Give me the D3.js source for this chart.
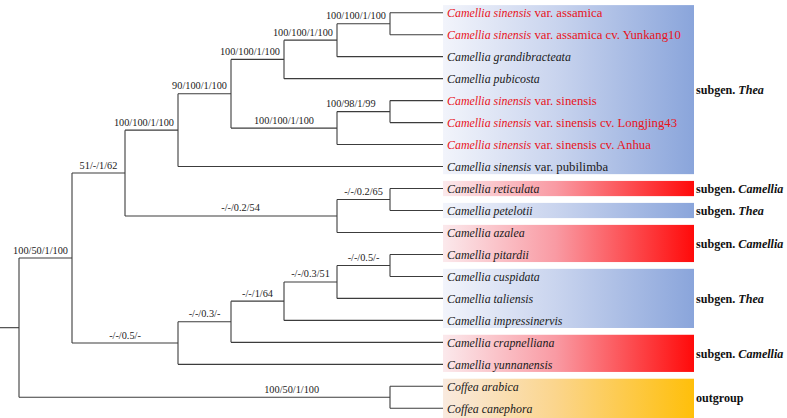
<!DOCTYPE html>
<html><head><meta charset="utf-8">
<script src="https://cdn.jsdelivr.net/npm/d3@7"></script>
<style>body{margin:0;background:#fff}svg{display:block}</style>
</head><body><svg id="c" width="787" height="418"></svg>
<script>
// ---- data ----
const taxa = [
  "Camellia sinensis var. assamica",
  "Camellia sinensis var. assamica cv. Yunkang10",
  "Camellia grandibracteata",
  "Camellia pubicosta",
  "Camellia sinensis var. sinensis",
  "Camellia sinensis var. sinensis cv. Longjing43",
  "Camellia sinensis var. sinensis cv. Anhua",
  "Camellia sinensis var. pubilimba",
  "Camellia reticulata",
  "Camellia petelotii",
  "Camellia azalea",
  "Camellia pitardii",
  "Camellia cuspidata",
  "Camellia taliensis",
  "Camellia impressinervis",
  "Camellia crapnelliana",
  "Camellia yunnanensis",
  "Coffea arabica",
  "Coffea canephora"
];
const redTaxa = [0, 1, 4, 5, 6];
// topology (leaf = taxon index), internal labels = support values
const treeNewick = "((((((((0,1)100/100/1/100,2)100/100/1/100,3)100/100/1/100,((4,5)100/98/1/99,6)100/100/1/100)90/100/1/100,7)100/100/1/100,((8,9)-/-/0.2/65,10)-/-/0.2/54)51/-/1/62,(((((11,12)-/-/0.5/-,13)-/-/0.3/51,14)-/-/1/64,15)-/-/0.3/-,16)-/-/0.5/-)100/50/1/100,(17,18)100/50/1/100);";
const groupType  = ["Thea", "Camellia", "Thea", "Camellia", "Thea", "Camellia", "outgroup"];
const groupFirst = [0, 8, 9, 10, 12, 15, 17];
const groupLast  = [7, 8, 9, 11, 14, 16, 18];

// ---- layout settings ----
const W = 787, H = 418;
const treeLeft = 19, leafX = 443, rectRight = 694, groupLabelX = 696;
const firstLeafY = 12.7, lastLeafY = 408.3;
const labelFrac = {"17-18": 0.735, "8-10": 0.545, "4-5": 0.26};
const gradColors = {
  Thea: ["#f2f4fb", "#c9d4ee", "#8aa5db"],
  Camellia: ["#fbe9ec", "#f99aa3", "#ff0a0a"],
  outgroup: ["#f9eadf", "#fbd58c", "#ffbf0a"]
};

// ---- newick parser ----
function parseNewick(s) {
  let i = 0;
  function readLabel() {
    let t = "";
    while (i < s.length && !",();".includes(s[i])) t += s[i++];
    return t;
  }
  function node() {
    if (s[i] === "(") {
      i++;
      const children = [node()];
      while (s[i] === ",") { i++; children.push(node()); }
      i++; // ')'
      return {children, label: readLabel()};
    }
    return {leaf: +readLabel()};
  }
  return node();
}

const root = d3.hierarchy(parseNewick(treeNewick), d => d.children);
d3.cluster().size([1, 1]).separation(() => 1)(root);

const leaves = root.leaves();
const xMin = d3.min(leaves, d => d.x), xMax = d3.max(leaves, d => d.x);
const yScale = d3.scaleLinear().domain([xMin, xMax]).range([firstLeafY, lastLeafY]);
const xScale = d3.scaleLinear().domain([0, 1]).range([treeLeft, leafX]);
const leafY = i => yScale(leaves.find(l => l.data.leaf === i).x);

const svg = d3.select("#c");
const defs = svg.append("defs");
Object.entries(gradColors).forEach(([k, c]) => {
  const g = defs.append("linearGradient").attr("id", "g" + k).attr("x1", "0").attr("x2", "1").attr("y1", "0").attr("y2", "0");
  g.append("stop").attr("offset", "0").attr("stop-color", c[0]);
  g.append("stop").attr("offset", "0.45").attr("stop-color", c[1]);
  g.append("stop").attr("offset", "1").attr("stop-color", c[2]);
});

const serif = "'Liberation Serif', 'Times New Roman', serif";

// group rectangles
const pad = 7.6;
groupType.forEach((t, gi) => {
  const y0 = leafY(groupFirst[gi]) - pad, y1 = leafY(groupLast[gi]) + pad + (t === "outgroup" ? 4 : 0);
  svg.append("rect").attr("x", leafX).attr("y", y0).attr("width", rectRight - leafX).attr("height", y1 - y0)
    .attr("fill", `url(#g${t})`);
  const yc = (leafY(groupFirst[gi]) + leafY(groupLast[gi])) / 2;
  const tx = svg.append("text").attr("x", groupLabelX).attr("y", yc + 4.3)
    .attr("font-family", serif).attr("font-size", 12.1)
    .attr("font-weight", "bold").attr("fill", "#111");
  if (t === "outgroup") tx.text("outgroup");
  else {
    tx.append("tspan").text("subgen. ");
    tx.append("tspan").attr("font-style", "italic").text(t);
  }
});

// branches
const line = svg.append("g").attr("fill", "none").attr("stroke", "#3c3c3c").attr("stroke-width", 1.1);
const px = d => xScale(d.y), py = d => yScale(d.x);
root.descendants().forEach(d => {
  if (d.children) {
    const ys = d.children.map(py);
    line.append("line").attr("x1", px(d)).attr("x2", px(d)).attr("y1", d3.min(ys)).attr("y2", d3.max(ys));
  }
  if (d.parent) {
    line.append("line").attr("x1", px(d.parent)).attr("x2", px(d)).attr("y1", py(d)).attr("y2", py(d));
  }
});
// root stem
line.append("line").attr("x1", 0).attr("x2", px(root)).attr("y1", py(root)).attr("y2", py(root));

// support labels
root.descendants().forEach(d => {
  if (!d.parent || !d.children || !d.data.label) return;
  const lv = d.leaves().map(l => l.data.leaf);
  const key = d3.min(lv) + "-" + d3.max(lv);
  const t = svg.append("text").attr("y", py(d) - 4.5)
    .attr("font-family", serif).attr("font-size", 10.3)
    .attr("fill", "#222").attr("text-anchor", "middle").text(d.data.label);
  const w = t.node().getComputedTextLength();
  const x0 = px(d.parent), x1 = px(d);
  let cx;
  if (labelFrac[key] !== undefined) cx = x0 + (x1 - x0) * labelFrac[key];
  else cx = Math.min((x0 + x1) / 2, x1 - 4 - w / 2);
  t.attr("x", cx);
});

// leaf labels
leaves.forEach(l => {
  const i = l.data.leaf, name = taxa[i];
  const words = name.split(" ");
  const t = svg.append("text").attr("x", leafX + 4).attr("y", py(l) + 4.4)
    .attr("font-family", serif).attr("font-size", 12.75)
    .attr("fill", redTaxa.includes(i) ? "#e8141c" : "#1a1a1a");
  t.append("tspan").attr("font-style", "italic").attr("font-size", 11.9).text(words.slice(0, 2).join(" "));
  if (words.length > 2) t.append("tspan").text(" " + words.slice(2).join(" "));
});
</script>
</body></html>
